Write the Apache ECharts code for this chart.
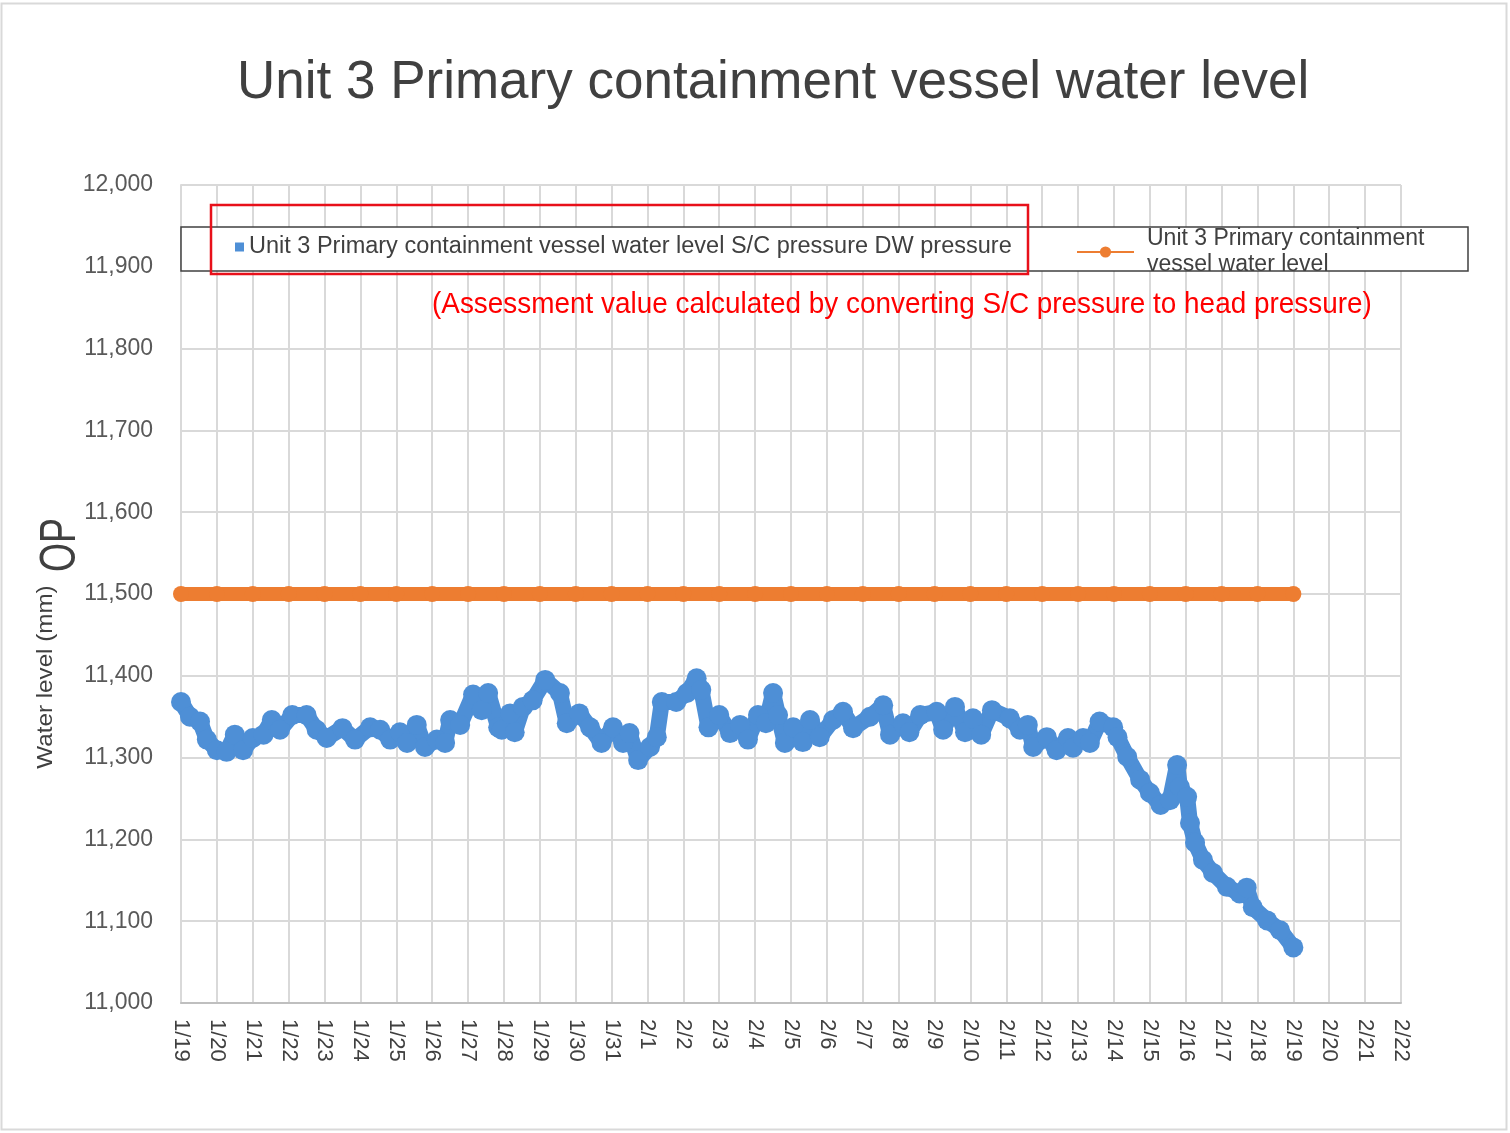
<!DOCTYPE html>
<html>
<head>
<meta charset="utf-8">
<title>Unit 3 PCV water level</title>
<script src="https://cdn.jsdelivr.net/npm/echarts@6/dist/echarts.min.js"></script>
<style>
    html, body { margin: 0; padding: 0; background: #fff; }
    #levelChart { width: 1510px; height: 1133px; }
</style>
</head>
<body>
<div id="levelChart"></div>
<script>
// x ticks, one per day from 1/19
var dateLabels = ['1/19', '1/20', '1/21', '1/22', '1/23', '1/24', '1/25', '1/26', '1/27', '1/28',
    '1/29', '1/30', '1/31', '2/1', '2/2', '2/3', '2/4', '2/5', '2/6', '2/7', '2/8', '2/9', '2/10',
    '2/11', '2/12', '2/13', '2/14', '2/15', '2/16', '2/17', '2/18', '2/19', '2/20', '2/21', '2/22'];

// S/C pressure based water level (days after 1/19, mm)
var levelDays = [0, 0.25, 0.53, 0.72, 1.0, 1.27, 1.5, 1.73, 2.0, 2.3, 2.53, 2.76, 3.1, 3.5, 3.78,
    4.06, 4.5, 4.85, 5.27, 5.55, 5.83, 6.1, 6.3, 6.57, 6.8, 7.13, 7.36, 7.5, 7.78, 8.14, 8.38, 8.56,
    8.84, 8.94, 9.17, 9.3, 9.53, 9.8, 10.15, 10.56, 10.75, 11.1, 11.4, 11.72, 12.04, 12.32, 12.5,
    12.74, 13.07, 13.26, 13.4, 13.8, 14.1, 14.37, 14.5, 14.7, 15.0, 15.3, 15.58, 15.8, 16.08, 16.3,
    16.5, 16.64, 16.83, 17.06, 17.33, 17.53, 17.8, 18.17, 18.45, 18.73, 19.2, 19.57, 19.76, 20.12,
    20.3, 20.6, 21.06, 21.24, 21.57, 21.85, 22.07, 22.3, 22.6, 23.1, 23.38, 23.6, 23.75, 24.13, 24.4,
    24.72, 24.86, 25.14, 25.33, 25.6, 25.98, 26.1, 26.37, 26.73, 27.0, 27.3, 27.56, 27.76, 27.84,
    28.04, 28.12, 28.26, 28.48, 28.76, 29.15, 29.5, 29.7, 29.87, 30.27, 30.63, 31.0];
var levelValues = [11368, 11350, 11344, 11322, 11309, 11307, 11328, 11309, 11324, 11328, 11346,
    11334, 11352, 11352, 11334, 11324, 11336, 11322, 11337, 11334, 11322, 11331, 11318, 11340,
    11313, 11322, 11318, 11346, 11340, 11377, 11358, 11379, 11337, 11334, 11354, 11331, 11362,
    11370, 11395, 11379, 11342, 11354, 11337, 11318, 11337, 11318, 11330, 11297, 11313, 11325,
    11368, 11368, 11379, 11397, 11383, 11337, 11352, 11330, 11340, 11322, 11352, 11342, 11379,
    11352, 11318, 11337, 11319, 11346, 11325, 11346, 11356, 11336, 11350, 11364, 11328, 11342,
    11331, 11352, 11356, 11334, 11362, 11331, 11348, 11328, 11358, 11348, 11334, 11340, 11313,
    11325, 11309, 11324, 11312, 11324, 11318, 11344, 11337, 11325, 11301, 11273, 11257, 11242,
    11248, 11291, 11264, 11252, 11220, 11196, 11175, 11159, 11142, 11134, 11141, 11117, 11101,
    11089, 11068];

// OP level, daily
var opDays = [0, 1, 2, 3, 4, 5, 6, 7, 8, 9, 10, 11, 12, 13, 14, 15, 16, 17, 18, 19, 20, 21, 22,
    23, 24, 25, 26, 27, 28, 29, 30, 31];
var opValues = [11500, 11500, 11500, 11500, 11500, 11500, 11500, 11500, 11500, 11500, 11500,
    11500, 11500, 11500, 11500, 11500, 11500, 11500, 11500, 11500, 11500, 11500, 11500, 11500,
    11500, 11500, 11500, 11500, 11500, 11500, 11500, 11500];

var yMin = 11000, yMax = 12000, yStep = 100;

var scName = 'Unit 3 Primary containment vessel water level S/C pressure DW pressure';
var opName = 'Unit 3 Primary containment vessel water level';

function pairs(xs, ys) {
    var out = [];
    for (var i = 0; i < xs.length; i++) out.push([xs[i], ys[i]]);
    return out;
}

var myChart = echarts.init(document.getElementById('levelChart'), null, { renderer: 'canvas' });
var font = '"Liberation Sans", Arial, sans-serif';

var option = {
    animation: false,
    backgroundColor: '#fff',
    textStyle: { fontFamily: font },
    title: {
        text: 'Unit 3 Primary containment vessel water level',
        left: 232,
        top: 52,
        textStyle: { fontSize: 53, fontWeight: 'normal', color: '#404040', fontFamily: font }
    },
    legend: [{
        data: [{ name: scName, icon: 'rect' }],
        left: 235,
        top: 234,
        padding: 0,
        itemWidth: 9,
        itemHeight: 9,
        selectedMode: false,
        z: 6,
        textStyle: { fontSize: 23.5, color: '#404040', lineHeight: 26 }
    }, {
        data: [{ name: opName }],
        left: 1076,
        top: 226,
        padding: 0,
        itemWidth: 57,
        itemHeight: 14,
        selectedMode: false,
        z: 6,
        formatter: function(name) {
            return name.replace(' vessel', '\nvessel');
        },
        textStyle: { fontSize: 23, color: '#404040', lineHeight: 26, padding: [0, 0, 0, 8] }
    }],
    grid: {
        left: 181,
        right: 109,
        top: 185,
        bottom: 130,
        containLabel: false
    },
    xAxis: {
        type: 'value',
        min: 0,
        max: dateLabels.length - 1,
        interval: 1,
        axisLine: { show: true, lineStyle: { color: '#bfbfbf', width: 2 } },
        axisTick: { show: false },
        splitLine: { show: true, lineStyle: { color: '#d9d9d9', width: 2 } },
        axisLabel: {
            rotate: -90,
            margin: 16,
            fontSize: 22,
            color: '#404040',
            showMinLabel: true,
            showMaxLabel: true,
            formatter: function(v) { return dateLabels[v] || ''; }
        }
    },
    yAxis: {
        type: 'value',
        min: yMin,
        max: yMax,
        interval: yStep,
        axisLine: { show: true, lineStyle: { color: '#d9d9d9', width: 2 } },
        axisTick: { show: false },
        splitLine: { show: true, lineStyle: { color: '#d9d9d9', width: 2 } },
        axisLabel: {
            margin: 28,
            fontSize: 23,
            color: '#595959',
            formatter: function(v) {
                return String(v).replace(/\B(?=(\d{3})+(?!\d))/g, ',');
            }
        }
    },
    series: [{
        name: scName,
        type: 'line',
        data: pairs(levelDays, levelValues),
        color: '#4e8fd6',
        symbol: 'circle',
        symbolSize: 20,
        lineStyle: { width: 16, join: 'round', cap: 'round' },
        z: 3
    }, {
        name: opName,
        type: 'line',
        data: pairs(opDays, opValues),
        color: '#ed7d31',
        symbol: 'circle',
        symbolSize: 16,
        lineStyle: { width: 14 },
        z: 3
    }],
    graphic: [
        // outer frame
        { type: 'rect', z: 0, silent: true,
          shape: { x: 1.5, y: 3.5, width: 1505, height: 1126 },
          style: { fill: 'none', stroke: '#d9d9d9', lineWidth: 2 } },
        // legend box
        { type: 'rect', z: 5, silent: true,
          shape: { x: 181, y: 227, width: 1287, height: 44 },
          style: { fill: '#fff', stroke: '#404040', lineWidth: 1.5 } },
        // red highlight
        { type: 'rect', z: 10, silent: true,
          shape: { x: 211, y: 205, width: 817, height: 69 },
          style: { fill: 'none', stroke: '#e8101a', lineWidth: 2.5 } },
        { type: 'text', z: 10, silent: true, x: 432, y: 305, scaleX: 0.93,
          style: { text: '(Assessment value calculated by converting S/C pressure to head pressure)',
                   font: '30px ' + font, fill: '#ff0000', textVerticalAlign: 'middle' } },
        // y axis title
        { type: 'text', z: 10, silent: true, x: 46, y: 677, rotation: Math.PI / 2, scaleX: 1.1,
          style: { text: 'Water level (mm)', font: '22px ' + font, fill: '#404040',
                   textAlign: 'center', textVerticalAlign: 'middle' } },
        { type: 'text', z: 10, silent: true, x: 61, y: 545, rotation: Math.PI / 2, scaleX: 0.75,
          style: { text: 'OP', font: '50px ' + font, fill: '#404040',
                   textAlign: 'center', textVerticalAlign: 'middle' } }
    ]
};

myChart.setOption(option);
</script>
</body>
</html>
